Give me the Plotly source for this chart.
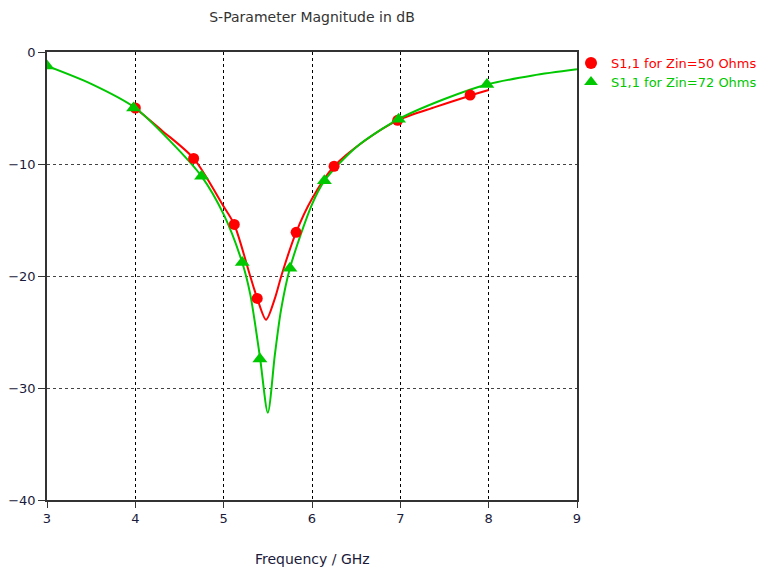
import plotly.graph_objects as go

# Curve samples (GHz, dB)
red_x = [4.0, 4.3, 4.66, 5.0, 5.12, 5.3, 5.38, 5.48, 5.58, 5.66, 5.82, 6.0, 6.25, 6.6, 6.97, 7.4, 7.79, 8.0]
red_y = [-5.0, -7.0, -9.5, -13.8, -15.4, -20.0, -22.0, -23.9, -22.0, -19.8, -16.1, -13.1, -10.2, -7.9, -6.1, -4.9, -3.9, -3.4]

green_x = [3.0, 3.5, 4.0, 4.4, 4.75, 5.0, 5.21, 5.3, 5.41, 5.5, 5.58, 5.65, 5.75, 6.0, 6.14, 6.5, 6.98, 7.5, 7.98, 8.5, 9.0]
green_y = [-1.25, -2.85, -5.0, -8.0, -11.1, -14.5, -18.8, -21.6, -27.2, -32.2, -27.0, -23.0, -19.3, -13.6, -11.5, -8.5, -6.0, -4.2, -2.9, -2.1, -1.55]

# Marker positions
red_mx = [4.0, 4.66, 5.12, 5.38, 5.82, 6.25, 6.97, 7.79]
red_my = [-5.0, -9.5, -15.4, -22.0, -16.1, -10.2, -6.1, -3.85]
green_mx = [3.0, 3.98, 4.75, 5.21, 5.41, 5.75, 6.14, 6.98, 7.98]
green_my = [-1.25, -5.0, -11.1, -18.8, -27.4, -19.3, -11.5, -6.0, -2.9]

x_ticks = [3, 4, 5, 6, 7, 8, 9]
y_ticks = [0, -10, -20, -30, -40]

RED = "#ff0000"
GREEN = "#00c800"
FONT = "DejaVu Sans"
W, H = 772, 569
L, R, T, B = 47, 195, 52, 69

fig = go.Figure()
fig.add_trace(go.Scatter(x=red_x, y=red_y, mode="lines", line=dict(color=RED, width=2, shape="spline", smoothing=0.8),
                         showlegend=False, hoverinfo="skip"))
fig.add_trace(go.Scatter(x=green_x, y=green_y, mode="lines", line=dict(color=GREEN, width=2, shape="spline", smoothing=0.8),
                         showlegend=False, hoverinfo="skip"))
fig.add_trace(go.Scatter(x=red_mx, y=red_my, mode="markers", name="S1,1 for Zin=50 Ohms", legend="legend",
                         marker=dict(symbol="circle", size=11, color=RED)))
fig.add_trace(go.Scatter(x=green_mx, y=green_my, mode="markers", name="S1,1 for Zin=72 Ohms", legend="legend2",
                         marker=dict(symbol="triangle-up", size=13, color=GREEN)))

fig.update_layout(
    width=W, height=H,
    margin=dict(l=L, r=R, t=T, b=B),
    paper_bgcolor="white", plot_bgcolor="white",
    font=dict(family=FONT, size=13, color="#1a1a3a"),
    title=dict(text="S-Parameter Magnitude in dB", x=(L + W - R) / 2 / W, xanchor="center",
               y=1 - 17 / H, yanchor="middle", font=dict(family=FONT, size=14, color="#333333")),
    legend=dict(xref="container", yref="container", x=578 / W, y=1 - 48 / H, xanchor="left", yanchor="top",
                indentation=-7, bgcolor="rgba(0,0,0,0)", font=dict(family=FONT, size=13, color=RED),
                itemsizing="constant"),
    legend2=dict(xref="container", yref="container", x=578 / W, y=1 - 67 / H, xanchor="left", yanchor="top",
                 indentation=-7, bgcolor="rgba(0,0,0,0)", font=dict(family=FONT, size=13, color=GREEN),
                 itemsizing="constant"),
    xaxis=dict(range=[3, 9], tickvals=x_ticks, showgrid=True, gridcolor="#000000", griddash="3px,3px", gridwidth=1,
               showline=True, linecolor="#333333", linewidth=1.5, mirror=True, automargin=False,
               ticks="outside", ticklen=6, tickcolor="#333333", zeroline=False),
    yaxis=dict(range=[-40, 0], tickvals=y_ticks, showgrid=True, gridcolor="#444444", griddash="3px,3px", gridwidth=1,
               showline=True, linecolor="#333333", linewidth=1.5, mirror=True, automargin=False,
               ticks="outside", ticklen=7, tickcolor="#333333", zeroline=False),
    annotations=[dict(text="Frequency / GHz", xref="paper", yref="paper", x=0.5, y=-(559 - (H - B)) / (H - T - B),
                      xanchor="center", yanchor="middle", showarrow=False,
                      font=dict(family=FONT, size=14, color="#1a1a3a"))],
)

fig.write_html("out.html")
